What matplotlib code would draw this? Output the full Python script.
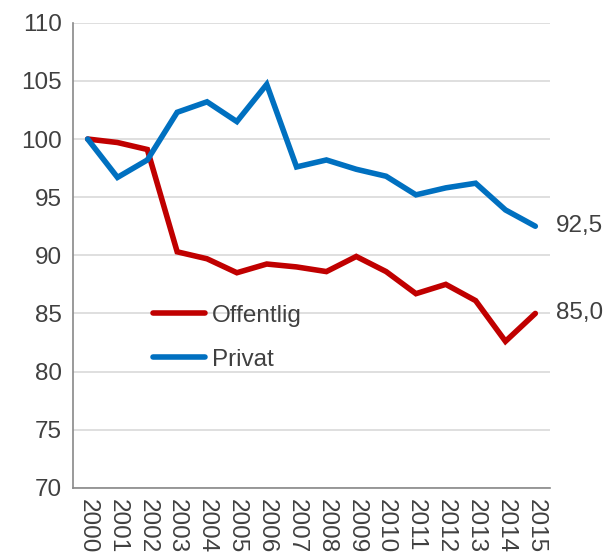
import matplotlib
matplotlib.use("Agg")
from matplotlib import pyplot as plt

years = [str(y) for y in range(2000, 2016)]
offentlig = [100, 99.7, 99.1, 90.3, 89.7, 88.5, 89.25, 89.0, 88.6, 89.9, 88.6, 86.7, 87.5, 86.1, 82.6, 85.0]
privat = [100, 96.7, 98.2, 102.3, 103.2, 101.5, 104.7, 97.6, 98.2, 97.4, 96.8, 95.2, 95.8, 96.2, 93.9, 92.5]
yticks = [70, 75, 80, 85, 90, 95, 100, 105, 110]

plt.rcParams['font.family'] = ['Liberation Sans', 'DejaVu Sans']
txt = '#404040'
fs = 17.5

fig = plt.figure(figsize=(6.06, 5.55), dpi=100)
ax = fig.add_axes([0.12, 0.121, 0.788, 0.838])

x = list(range(len(years)))
ax.plot(x, offentlig, color='#C00000', lw=4, label='Offentlig', solid_capstyle='round', solid_joinstyle='miter')
ax.plot(x, privat, color='#0070C0', lw=4, label='Privat', solid_capstyle='round', solid_joinstyle='miter')

# end labels
ax.annotate(f"{privat[-1]:.1f}".replace('.', ','), (x[-1], privat[-1]), xytext=(15, 0),
            textcoords='offset points', va='center', ha='left', fontsize=fs, color=txt, annotation_clip=False)
ax.annotate(f"{offentlig[-1]:.1f}".replace('.', ','), (x[-1], offentlig[-1]), xytext=(15, 0),
            textcoords='offset points', va='center', ha='left', fontsize=fs, color=txt, annotation_clip=False)

ax.set_xlim(-0.5, len(years) - 0.5)
ax.set_ylim(70, 110)
ax.set_yticks(yticks)
ax.set_xticks(x)
ax.set_xticklabels(years, rotation=-90, fontsize=fs, color=txt)
ax.tick_params(axis='y', labelsize=fs, labelcolor=txt, length=0, pad=8)
ax.tick_params(axis='x', length=0, pad=8)
ax.grid(axis='y', color='#D9D9D9', lw=1.2)
ax.set_axisbelow(True)
for s in ['top', 'right']:
    ax.spines[s].set_visible(False)
for s in ['left', 'bottom']:
    ax.spines[s].set_color('#898989')
    ax.spines[s].set_linewidth(1.2)

leg = ax.legend(loc='upper left', bbox_to_anchor=(0.142, 0.42), frameon=False, fontsize=fs,
                handlelength=2.15, handletextpad=0.3, labelspacing=0.9, borderpad=0)
for t in leg.get_texts():
    t.set_color(txt)

plt.savefig("out.png", dpi=100)
plt.close()
